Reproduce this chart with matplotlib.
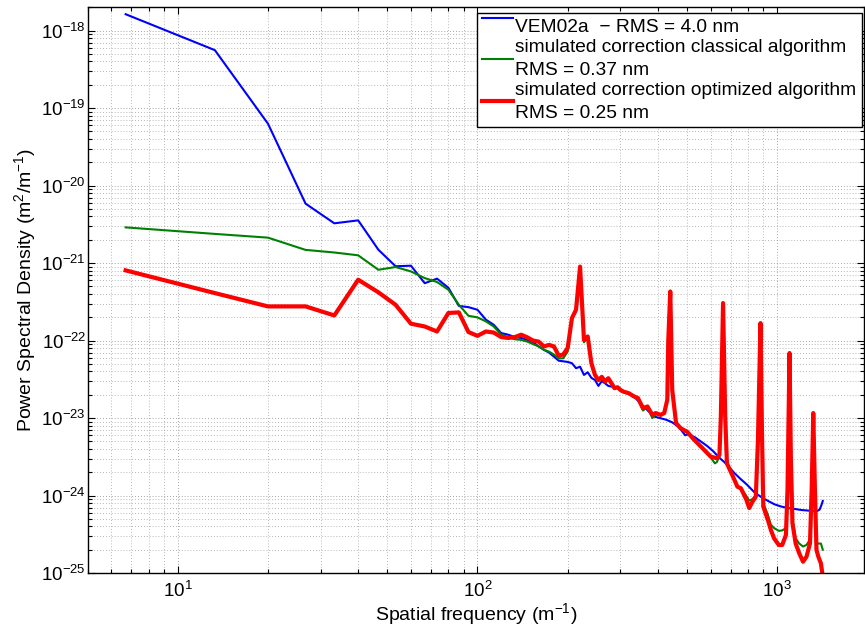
import numpy as np
import matplotlib
matplotlib.use("Agg")
import matplotlib.pyplot as plt

plt.rcParams['font.family'] = ['Liberation Sans', 'DejaVu Sans']
plt.rcParams['mathtext.fontset'] = 'custom'
plt.rcParams['mathtext.rm'] = 'Liberation Sans'
plt.rcParams['mathtext.it'] = 'Liberation Sans:italic'
plt.rcParams['mathtext.default'] = 'regular'

# VEM02a measured PSD
f_vem = [6.7, 13.3, 20.0, 26.7, 33.3, 40.0, 46.7, 53.3, 60.0, 66.7, 73.3, 80.0,
         86.7, 93.3, 100.0, 106.7, 113.3, 120.0, 126.7, 133.3, 140.0, 146.7,
         153.3, 160.0, 166.7, 173.3, 180.0, 186.7, 193.3, 200.0, 206.7, 213.3,
         220.0, 226.7, 233.3, 240.0, 246.7, 253.3, 260.0, 266.7, 273.3, 280.0,
         293.3, 306.7, 320.0, 333.3, 346.7, 366.7, 386.7, 406.7, 426.7, 446.7,
         466.7, 480.0, 493.3, 506.7, 533.3, 560.0, 586.7, 613.3, 640.0, 666.7,
         693.3, 720.0, 753.3, 793.3, 840.0, 886.7, 933.3, 980.0, 1033.3, 1086.7,
         1146.7, 1206.7, 1266.7, 1320.0, 1360.0, 1386.7, 1406.7, 1420.0]
psd_vem = [1.63e-18, 5.6e-19, 6.3e-20, 5.85e-21, 3.26e-21, 3.56e-21, 1.49e-21,
           9.1e-22, 9.25e-22, 5.5e-22, 6.3e-22, 4.8e-22, 2.8e-22, 2.7e-22, 2.5e-22,
           1.86e-22, 1.6e-22, 1.25e-22, 1.19e-22, 1.11e-22, 1.08e-22, 1.02e-22,
           9.5e-23, 8.4e-23, 7.6e-23, 7.0e-23, 6.2e-23, 5.5e-23, 5.4e-23, 5.3e-23,
           5.1e-23, 4.4e-23, 4.6e-23, 3.6e-23, 3.9e-23, 3.3e-23, 3.1e-23, 2.6e-23,
           3.0e-23, 2.8e-23, 2.6e-23, 2.55e-23, 2.45e-23, 2.2e-23, 2.1e-23, 1.9e-23,
           1.6e-23, 1.3e-23, 1.05e-23, 1.0e-23, 9.5e-24, 8.8e-24, 7.8e-24, 6.9e-24,
           6.0e-24, 6.2e-24, 5.6e-24, 4.9e-24, 4.3e-24, 3.7e-24, 3.1e-24, 2.7e-24,
           2.3e-24, 1.95e-24, 1.65e-24, 1.38e-24, 1.1e-24, 9.5e-25, 8.5e-25, 7.7e-25,
           7.2e-25, 6.9e-25, 6.7e-25, 6.5e-25, 6.4e-25, 6.3e-25, 6.3e-25, 6.6e-25,
           7.6e-25, 8.5e-25]

# simulated correction, classical algorithm
f_class = [6.7, 13.3, 20.0, 26.7, 33.3, 40.0, 46.7, 53.3, 60.0, 66.7, 73.3, 80.0,
           86.7, 93.3, 100.0, 106.7, 113.3, 120.0, 126.7, 133.3, 140.0, 146.7,
           153.3, 160.0, 166.7, 173.3, 180.0, 186.7, 193.3, 200.0, 206.7, 213.3,
           220.0, 226.7, 233.3, 240.0, 246.7, 253.3, 260.0, 266.7, 273.3, 280.0,
           286.7, 293.3, 300.0, 306.7, 320.0, 333.3, 343.3, 356.7, 369.3, 383.3,
           393.3, 408.7, 420.0, 430.0, 433.3, 440.0, 446.7, 460.0, 476.7, 486.7,
           500.0, 523.3, 550.0, 578.0, 600.0, 620.0, 629.0, 642.0, 649.0, 660.0,
           671.0, 680.0, 720.0, 737.0, 757.0, 790.0, 807.0, 827.0, 849.0, 863.0,
           880.0, 889.0, 899.0, 932.0, 953.0, 977.0, 1013.0, 1040.0, 1070.0, 1083.0,
           1100.0, 1111.0, 1125.0, 1153.0, 1185.0, 1220.0, 1253.0, 1287.0, 1304.0,
           1320.0, 1337.0, 1353.0, 1373.0, 1400.0, 1420.0]
psd_class = [2.89e-21, 2.38e-21, 2.13e-21, 1.48e-21, 1.37e-21, 1.26e-21, 8.2e-22,
             8.9e-22, 7.8e-22, 6.4e-22, 5.7e-22, 4.53e-22, 2.9e-22, 2.09e-22, 1.99e-22,
             1.77e-22, 1.52e-22, 1.19e-22, 1.11e-22, 1.04e-22, 1.02e-22, 9.7e-23,
             9.0e-23, 8.4e-23, 7.6e-23, 7.2e-23, 6.6e-23, 5.9e-23, 5.9e-23, 7.2e-23,
             1.9e-22, 2.45e-22, 8.8e-22, 9.5e-23, 1.1e-22, 5.0e-23, 3.5e-23, 3.0e-23,
             3.3e-23, 2.9e-23, 3.2e-23, 2.75e-23, 2.4e-23, 2.45e-23, 2.25e-23, 2.15e-23,
             2.05e-23, 1.85e-23, 1.75e-23, 1.25e-23, 1.38e-23, 1.0e-23, 1.12e-23,
             1.08e-23, 1.14e-23, 1.7e-23, 1.0e-22, 4.2e-22, 2.2e-23, 8.4e-24, 7.2e-24,
             6.9e-24, 6.5e-24, 5.3e-24, 4.4e-24, 3.6e-24, 3.1e-24, 2.6e-24, 2.7e-24,
             3.2e-24, 1.0e-23, 3.0e-22, 1.0e-23, 2.6e-24, 1.6e-24, 1.3e-24, 1.25e-24,
             9.8e-25, 8.6e-25, 9.0e-25, 1.0e-24, 5.2e-24, 1.65e-22, 8.4e-24, 8.0e-25,
             5.6e-25, 4.2e-25, 3.8e-25, 3.5e-25, 3.55e-25, 3.8e-25, 1.2e-24, 6.8e-23,
             3.1e-24, 5.0e-25, 2.8e-25, 2.4e-25, 2.2e-25, 2.3e-25, 2.7e-25, 1.2e-24,
             1.15e-23, 1.2e-24, 2.4e-25, 2.4e-25, 2.4e-25, 2.0e-25]

# simulated correction, optimized algorithm
f_opt = [6.7, 13.3, 20.0, 26.7, 33.3, 40.0, 46.7, 53.3, 60.0, 66.7, 73.3, 80.0,
         86.7, 93.3, 100.0, 106.7, 113.3, 120.0, 126.7, 133.3, 140.0, 146.7,
         153.3, 160.0, 166.7, 173.3, 180.0, 186.7, 193.3, 200.0, 206.7, 213.3,
         220.0, 226.7, 233.3, 240.0, 246.7, 253.3, 260.0, 266.7, 273.3, 280.0,
         286.7, 293.3, 300.0, 306.7, 320.0, 333.3, 343.3, 356.7, 369.3, 383.3,
         393.3, 408.7, 420.0, 430.0, 433.3, 440.0, 446.7, 460.0, 476.7, 486.7,
         500.0, 523.3, 550.0, 578.0, 600.0, 629.0, 642.0, 649.0, 660.0, 671.0,
         680.0, 720.0, 737.0, 757.0, 790.0, 807.0, 827.0, 849.0, 863.0, 880.0,
         889.0, 899.0, 932.0, 953.0, 977.0, 1013.0, 1040.0, 1070.0, 1083.0, 1100.0,
         1111.0, 1125.0, 1153.0, 1185.0, 1220.0, 1253.0, 1287.0, 1304.0, 1320.0,
         1337.0, 1353.0, 1373.0, 1400.0, 1420.0]
psd_opt = [8.05e-22, 4.1e-22, 2.76e-22, 2.76e-22, 2.11e-22, 6.1e-22, 4.2e-22,
           2.9e-22, 1.65e-22, 1.52e-22, 1.31e-22, 2.27e-22, 2.31e-22, 1.29e-22,
           1.15e-22, 1.31e-22, 1.27e-22, 1.11e-22, 1.08e-22, 1.11e-22, 1.19e-22,
           1.1e-22, 1.0e-22, 9.7e-23, 8.4e-23, 8.8e-23, 8.4e-23, 6.4e-23, 6.6e-23,
           8.0e-23, 1.95e-22, 2.5e-22, 9.0e-22, 1.02e-22, 1.13e-22, 5.1e-23, 3.6e-23,
           3.1e-23, 3.4e-23, 2.96e-23, 3.27e-23, 2.82e-23, 2.43e-23, 2.5e-23,
           2.31e-23, 2.2e-23, 2.09e-23, 1.9e-23, 1.81e-23, 1.34e-23, 1.41e-23,
           1.1e-23, 1.16e-23, 1.1e-23, 1.16e-23, 1.72e-23, 1.0e-22, 4.3e-22, 2.3e-23,
           8.6e-24, 7.4e-24, 7.05e-24, 6.7e-24, 5.5e-24, 4.5e-24, 3.7e-24, 3.18e-24,
           3.03e-24, 3.35e-24, 1.05e-23, 3.05e-22, 1.05e-23, 2.6e-24, 1.6e-24,
           1.3e-24, 1.24e-24, 8.8e-25, 6.9e-25, 8.3e-25, 9.7e-25, 5.2e-24, 1.68e-22,
           8.6e-24, 7.2e-25, 4.8e-25, 3.6e-25, 2.8e-25, 2.3e-25, 2.3e-25, 3.1e-25,
           1.18e-24, 6.9e-23, 3.18e-24, 4.4e-25, 2.4e-25, 1.8e-25, 1.4e-25, 1.62e-25,
           2.4e-25, 1.18e-24, 1.16e-23, 1.18e-24, 1.98e-25, 1.62e-25, 1.33e-25, 9e-26]

labels = ["VEM02a  \u2212 RMS = 4.0 nm",
          "simulated correction classical algorithm\nRMS = 0.37 nm",
          "simulated correction optimized algorithm\nRMS = 0.25 nm"]

fig = plt.figure(figsize=(8.65, 6.31), dpi=100)
ax = fig.add_axes([0.1012, 0.0919, 0.8977, 0.8965])

ax.loglog(f_vem, psd_vem, color=(0, 0, 1), lw=1.5, label=labels[0])
ax.loglog(f_class, psd_class, color=(0, 0.5, 0), lw=1.5, label=labels[1])
ax.loglog(f_opt, psd_opt, color=(1, 0, 0), lw=3, label=labels[2])

ax.set_xlim(5, 1950)
ax.set_ylim(1e-25, 2e-18)
ax.set_yticks([10.0 ** e for e in range(-25, -17)])

ax.grid(True, which='major', linestyle=(0, (1, 2.5)), color='#8a8a8a', lw=0.6)
ax.grid(True, which='minor', linestyle=(0, (1, 2.5)), color='#a0a0a0', lw=0.6)
ax.tick_params(which='both', direction='in', top=True, right=True,
               labelsize=13.5, width=0.8)
ax.tick_params(which='major', length=5)
ax.tick_params(which='minor', length=3)
ax.tick_params(axis='x', which='major', pad=6)
ax.tick_params(axis='y', which='major', pad=1)
for s in ax.spines.values():
    s.set_linewidth(1.0)

ax.set_xlabel("Spatial frequency (m$^{-1}$)", fontsize=14, labelpad=0)
ax.set_ylabel("Power Spectral Density (m$^2$/m$^{-1}$)", fontsize=14, labelpad=2)

leg = ax.legend(loc='upper right', bbox_to_anchor=(0.997, 0.99), borderaxespad=0,
                fontsize=13.8, fancybox=False, framealpha=1, edgecolor='black',
                handlelength=1.6, handletextpad=0.1, labelspacing=0.15,
                borderpad=0.3)
leg.get_frame().set_linewidth(1.0)
for t in leg.get_texts():
    t.set_linespacing(1.45)
# MATLAB draws the single-line entry's marker near the top of its text
ln = leg.get_lines()[0]
ln.set_ydata(np.asarray(ln.get_ydata()) + 5)

fig.savefig("out.png", dpi=100)
